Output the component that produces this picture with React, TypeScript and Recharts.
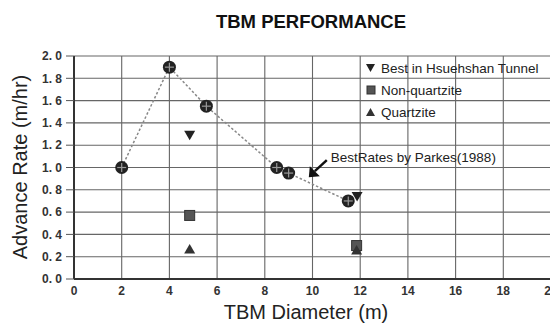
import React from 'react';
import {
  ScatterChart,
  Scatter,
  XAxis,
  YAxis,
  CartesianGrid,
  ReferenceDot,
} from 'recharts';

// ---- data ----
const parkesRates = [
  { d: 2, r: 1.0 },
  { d: 4, r: 1.9 },
  { d: 5.55, r: 1.55 },
  { d: 8.5, r: 1.0 },
  { d: 9.0, r: 0.95 },
  { d: 11.5, r: 0.7 },
];
const hsuehshanBest = [
  { d: 4.85, r: 1.29 },
  { d: 11.87, r: 0.74 },
];
const nonQuartzite = [
  { d: 4.85, r: 0.57 },
  { d: 11.85, r: 0.3 },
];
const quartzite = [
  { d: 4.85, r: 0.27 },
  { d: 11.85, r: 0.26 },
];
const xTicks = [0, 2, 4, 6, 8, 10, 12, 14, 16, 18, 20];
const yTicks = [0, 0.2, 0.4, 0.6, 0.8, 1.0, 1.2, 1.4, 1.6, 1.8, 2.0];
const titleText = 'TBM PERFORMANCE';
const xTitle = 'TBM Diameter (m)';
const yTitle = 'Advance Rate (m/hr)';
const annotationText = 'BestRates by Parkes(1988)';
const annotationPoint = { d: 10.6, r: 1.066 };
const legendNames = ['Best in Hsuehshan Tunnel', 'Non-quartzite', 'Quartzite'];

const FONT = '"Liberation Sans", Arial, sans-serif';

const CircleCross = (p: any) => {
  const { cx, cy } = p;
  if (cx == null || cy == null) return null;
  return (
    <g>
      <circle cx={cx} cy={cy} r={6.5} fill="#222" />
      <line x1={cx - 4.5} y1={cy} x2={cx + 4.5} y2={cy} stroke="#999" strokeWidth={1.2} />
      <line x1={cx} y1={cy - 4.5} x2={cx} y2={cy + 4.5} stroke="#999" strokeWidth={1.2} />
    </g>
  );
};
const DownTri = (p: any) => {
  const { cx, cy } = p;
  if (cx == null || cy == null) return null;
  return <path d={`M${cx - 5.5},${cy - 4.5} L${cx + 5.5},${cy - 4.5} L${cx},${cy + 5} Z`} fill="#222" />;
};
const Sq = (p: any) => {
  const { cx, cy } = p;
  if (cx == null || cy == null) return null;
  return <rect x={cx - 5} y={cy - 5} width={10} height={10} fill="#555" stroke="#333" strokeWidth={1} />;
};
const UpTri = (p: any) => {
  const { cx, cy } = p;
  if (cx == null || cy == null) return null;
  return <path d={`M${cx - 5.5},${cy + 4.5} L${cx + 5.5},${cy + 4.5} L${cx},${cy - 5} Z`} fill="#333" />;
};

const Annotation = (p: any) => {
  const { cx, cy } = p;
  if (cx == null || cy == null) return null;
  const tipX = cx - 18;
  const tipY = cy + 17;
  return (
    <g>
      <line x1={cx} y1={cy} x2={tipX + 6} y2={tipY - 6} stroke="#111" strokeWidth={2.5} />
      <path d={`M${tipX},${tipY} L${tipX + 1},${tipY - 11} L${tipX + 11},${tipY - 1} Z`} fill="#111" />
      <text x={cx + 4} y={cy + 2} fontFamily={FONT} fontSize={13.5} fill="#222">
        {annotationText}
      </text>
    </g>
  );
};

const legendShapes = [
  <path key="a" d="M0,1 L9,1 L4.5,9 Z" fill="#222" />,
  <rect key="b" x={1} y={1} width={8} height={8} fill="#555" stroke="#333" />,
  <path key="c" d="M0,9 L9,9 L4.5,1 Z" fill="#333" />,
];
const legendTops = [60, 82, 104];

const fmt = (v: number) => {
  const s = v.toFixed(1);
  return s.replace('.', '. ');
};

export default function App() {
  return (
    <div
      style={{
        position: 'fixed',
        left: 0,
        top: 0,
        width: 550,
        height: 323,
        overflow: 'hidden',
        background: '#fff',
        fontFamily: FONT,
      }}
    >
      <div
        style={{
          position: 'absolute',
          left: 0,
          top: 10,
          width: 622,
          textAlign: 'center',
          fontSize: 18.5,
          fontWeight: 'bold',
          color: '#111',
          lineHeight: '24px',
        }}
      >
        {titleText}
      </div>
      <ScatterChart
        width={580}
        height={323}
        margin={{ top: 56, right: 29, bottom: 0, left: 0 }}
      >
        <CartesianGrid stroke="#666" strokeWidth={1.1} />
        <XAxis
          type="number"
          dataKey="d"
          domain={[0, 20]}
          ticks={xTicks}
          interval={0}
          height={44}
          tickLine={false}
          tickSize={6}
          tickMargin={1}
          axisLine={{ stroke: '#333', strokeWidth: 2 }}
          tick={{ fill: '#333', fontSize: 12, fontWeight: 'bold', fontFamily: FONT }}
        />
        <YAxis
          type="number"
          dataKey="r"
          domain={[0, 2]}
          ticks={yTicks}
          interval={0}
          width={74}
          tickSize={8}
          tickMargin={4}
          tickLine={{ stroke: '#555' }}
          axisLine={{ stroke: '#333', strokeWidth: 2 }}
          tickFormatter={fmt}
          tick={{ fill: '#333', fontSize: 12, fontWeight: 'bold', fontFamily: FONT }}
        />
        <Scatter
          name="Parkes"
          data={parkesRates}
          isAnimationActive={false}
          line={{ stroke: '#888', strokeWidth: 1.5, strokeDasharray: '2.5 2' }}
          shape={CircleCross}
        />
        <Scatter name={legendNames[0]} data={hsuehshanBest} isAnimationActive={false} shape={DownTri} />
        <Scatter name={legendNames[1]} data={nonQuartzite} isAnimationActive={false} shape={Sq} />
        <Scatter name={legendNames[2]} data={quartzite} isAnimationActive={false} shape={UpTri} />
        <ReferenceDot x={annotationPoint.d} y={annotationPoint.r} shape={Annotation} />
      </ScatterChart>
      <div
        style={{
          position: 'absolute',
          left: 0,
          top: 300,
          width: 612,
          textAlign: 'center',
          fontSize: 20,
          color: '#222',
          lineHeight: '24px',
        }}
      >
        {xTitle}
      </div>
      <div
        style={{
          position: 'absolute',
          left: 20,
          top: 167,
          transform: 'translate(-50%, -50%) rotate(-90deg)',
          whiteSpace: 'nowrap',
          fontSize: 20,
          color: '#222',
          lineHeight: '24px',
        }}
      >
        {yTitle}
      </div>
      {legendNames.map((n, i) => (
        <div
          key={n}
          style={{
            position: 'absolute',
            left: 366,
            top: legendTops[i],
            height: 16,
            display: 'flex',
            alignItems: 'center',
            fontSize: 13.5,
            color: '#222',
            whiteSpace: 'nowrap',
          }}
        >
          <svg width={10} height={10} style={{ marginRight: 5 }}>
            {legendShapes[i]}
          </svg>
          {n}
        </div>
      ))}
    </div>
  );
}
